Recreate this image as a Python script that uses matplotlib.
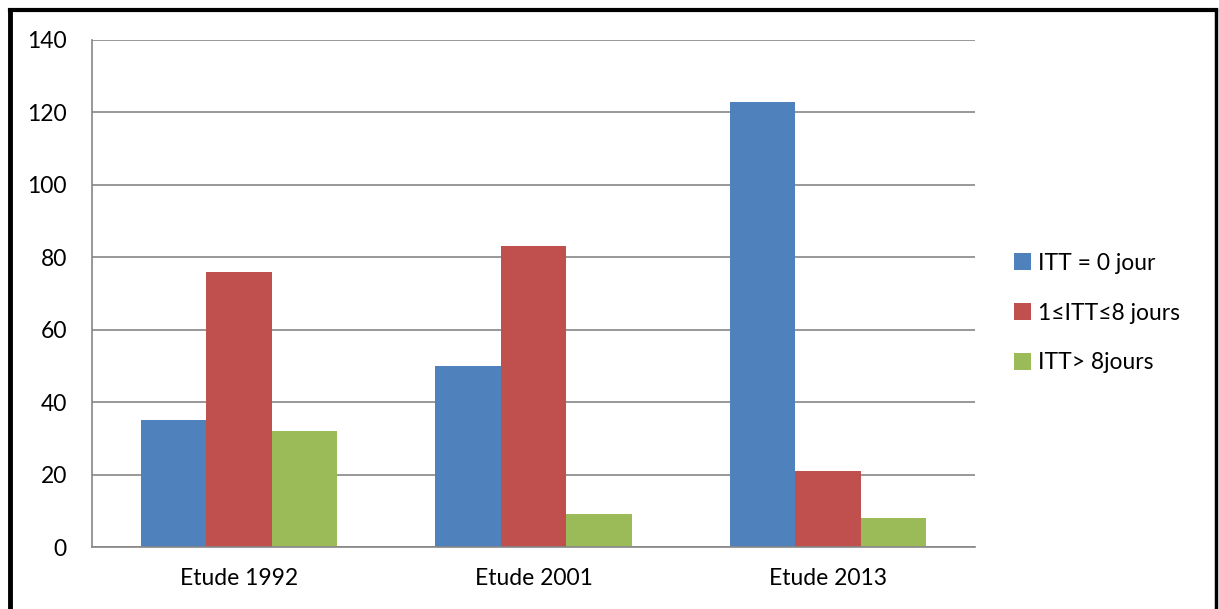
import numpy as np
import matplotlib.pyplot as plt
from matplotlib.lines import Line2D

plt.rcParams['font.family'] = ['Lato', 'DejaVu Sans']

studies = ["Etude 1992", "Etude 2001", "Etude 2013"]
itt_0 = [35, 50, 123]
itt_1_8 = [76, 83, 21]
itt_over_8 = [32, 9, 8]
series_labels = ["ITT = 0 jour", "1≤ITT≤8 jours", "ITT> 8jours"]
colors = ["#4F81BD", "#C0504D", "#9BBB59"]

W, H = 1219, 609
fig = plt.figure(figsize=(W / 100, H / 100), dpi=100)
ax = fig.add_axes([92 / W, 1 - 547 / H, (975 - 92) / W, (547 - 40) / H])

x = np.arange(len(studies))
width = 0.222
for i, (vals, lab, col) in enumerate(zip([itt_0, itt_1_8, itt_over_8], series_labels, colors)):
    ax.bar(x + (i - 1) * width, vals, width, color=col, label=lab, zorder=2)

ax.set_xlim(-0.5, 2.5)
ax.set_ylim(0, 140)
ax.set_yticks(range(0, 141, 20))
ax.set_xticks(x)
ax.set_xticklabels(studies)
ax.grid(axis="y", color="#868686", linewidth=1.2, zorder=0)
for s in ["top", "right"]:
    ax.spines[s].set_visible(False)
for s in ["left", "bottom"]:
    ax.spines[s].set_color("#868686")
    ax.spines[s].set_linewidth(1.2)
ax.tick_params(axis="both", length=0, labelsize=16.5, colors="black")
ax.tick_params(axis="y", pad=18)
ax.tick_params(axis="x", pad=15)

ax.legend(loc="center left", bbox_to_anchor=(1014 / W, 1 - 313 / H),
          bbox_transform=fig.transFigure, frameon=False, fontsize=16.5,
          handlelength=0.75, handleheight=0.75, handletextpad=0.3,
          labelspacing=1.25, borderpad=0, borderaxespad=0)

# outer frame
fig.add_artist(Line2D([10 / W, 10 / W], [0, 1 - 10 / H], color="black", linewidth=3.5))
fig.add_artist(Line2D([10 / W, 1216 / W], [1 - 10 / H, 1 - 10 / H], color="black", linewidth=3))
fig.add_artist(Line2D([1216 / W, 1216 / W], [0, 1 - 10 / H], color="black", linewidth=2.5))

fig.savefig("out.png", dpi=100)
